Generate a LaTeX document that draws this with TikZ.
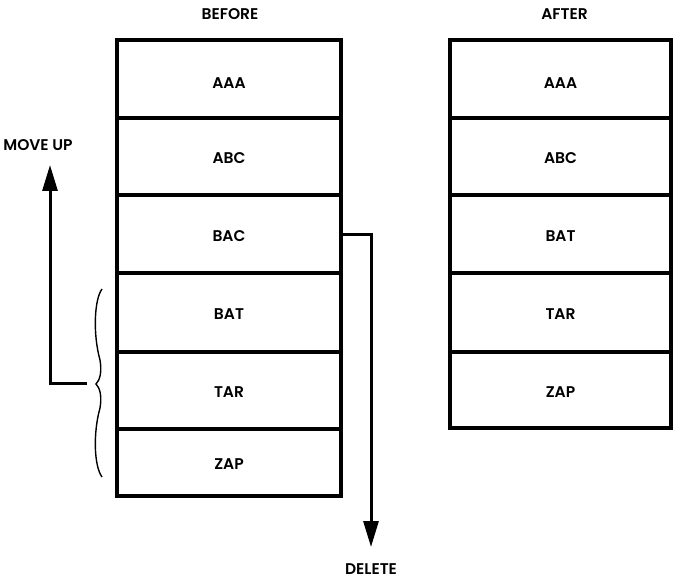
\documentclass[tikz,border=0pt]{standalone}
\usepackage{fontspec}
\setmainfont{Poppins}[UprightFont=* SemiBold]
\usetikzlibrary{arrows.meta}
\begin{document}
\begin{tikzpicture}[x=1pt,y=-1pt,
  cell/.style={draw, line width=3.5pt, rectangle, inner sep=0pt},
  celltext/.style={inner sep=0pt, font=\fontsize{15.5}{18}\selectfont},
  lbl/.style={inner sep=0pt, font=\fontsize{15.5}{19}\selectfont},
  arr/.style={line width=3pt, -{Triangle[length=26pt,width=15pt]}},
  bracepath/.style={line width=1.4pt}]
\useasboundingbox (0,0) rectangle (674,580);
% BEFORE stack
\node[cell, minimum width=224pt, minimum height=78pt] (L1) at (229,79) {};
\node[cell, minimum width=224pt, minimum height=77pt] (L2) at (229,156.5) {};
\node[cell, minimum width=224pt, minimum height=78pt] (L3) at (229,234) {};
\node[cell, minimum width=224pt, minimum height=79pt] (L4) at (229,312.5) {};
\node[cell, minimum width=224pt, minimum height=77pt] (L5) at (229,390.5) {};
\node[cell, minimum width=224pt, minimum height=67pt] (L6) at (229,462.5) {};
\node[celltext] (tL1) at ([yshift=-4pt]L1.center) {AAA};
\node[celltext] (tL2) at ([yshift=-2pt]L2.center) {ABC};
\node[celltext] (tL3) at ([yshift=-2pt]L3.center) {BAC};
\node[celltext] (tL4) at ([yshift=-2pt]L4.center) {BAT};
\node[celltext] (tL5) at ([yshift=-2pt]L5.center) {TAR};
\node[celltext] (tL6) at ([yshift=-2pt]L6.center) {ZAP};
% AFTER stack
\node[cell, minimum width=221pt, minimum height=78pt] (R1) at (560.5,79) {};
\node[cell, minimum width=221pt, minimum height=77pt] (R2) at (560.5,156.5) {};
\node[cell, minimum width=221pt, minimum height=78pt] (R3) at (560.5,234) {};
\node[cell, minimum width=221pt, minimum height=79pt] (R4) at (560.5,312.5) {};
\node[cell, minimum width=221pt, minimum height=76pt] (R5) at (560.5,390) {};
\node[celltext] (tR1) at ([yshift=-4pt]R1.center) {AAA};
\node[celltext] (tR2) at ([yshift=-2pt]R2.center) {ABC};
\node[celltext] (tR3) at ([yshift=-2pt]R3.center) {BAT};
\node[celltext] (tR4) at ([yshift=-2pt]R4.center) {TAR};
\node[celltext] (tR5) at ([yshift=-2pt]R5.center) {ZAP};
% headings
\node[lbl] (before) at (230,14) {BEFORE};
\node[lbl] (after) at (564.5,14) {AFTER};
\node[lbl] (moveup) at (38,145) {MOVE UP};
\node[lbl] (delete) at (371,569) {DELETE};
% brace
\coordinate (bcusp) at (96,384);
\draw[bracepath] (102,289) .. controls (94,300) and (93,335) .. (100,360)
  .. controls (102,372) and (100,380) .. (bcusp)
  .. controls (100,388) and (102,396) .. (100,408)
  .. controls (93,433) and (94,466) .. (102,477);
% move up arrow
\coordinate (mstart) at (87,383);
\coordinate (mtip) at (50,165);
\draw[arr] (mstart) -| (mtip);
% delete arrow
\coordinate (dtip) at (371,547);
\draw[arr] (L3.east) -| (dtip);
\end{tikzpicture}
\end{document}
